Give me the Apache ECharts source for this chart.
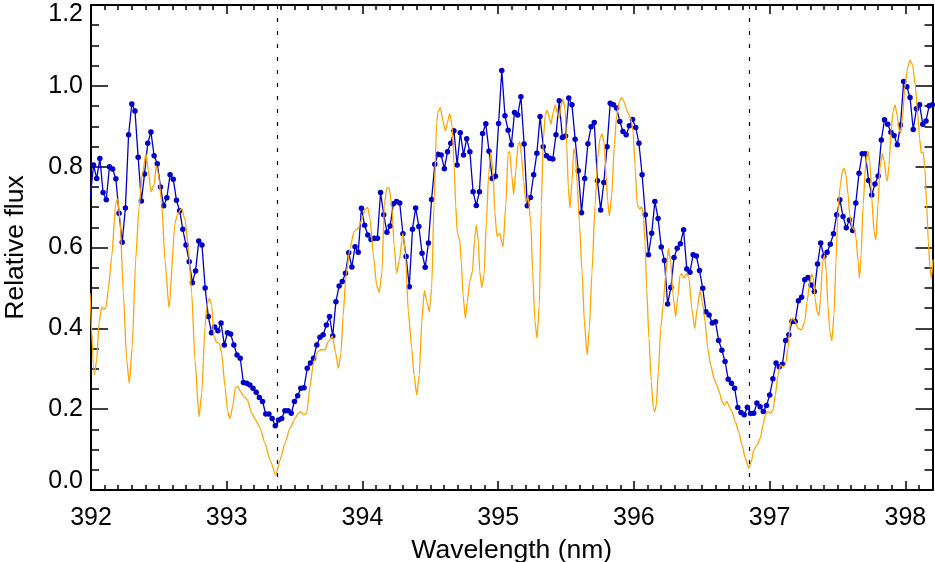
<!DOCTYPE html>
<html>
<head>
<meta charset="utf-8">
<script src="https://cdn.jsdelivr.net/npm/echarts/dist/echarts.min.js"></script>
<style>
  html, body { margin: 0; padding: 0; background: #ffffff; }
  #chart { width: 935px; height: 562px; }
</style>
</head>
<body>
<div id="chart"></div>
<script>
// ---------------- DATA ----------------
// Observed spectrum: wavelength grid (nm)
const obsWavelength = [
  391.995, 392.0185, 392.042, 392.0655, 392.089, 392.1125, 392.136, 392.1595, 392.183, 392.2065,
  392.23, 392.2535, 392.277, 392.3005, 392.324, 392.3475, 392.371, 392.3945, 392.418, 392.4415,
  392.465, 392.4885, 392.512, 392.5355, 392.559, 392.5825, 392.606, 392.6295, 392.653, 392.6765,
  392.7, 392.7235, 392.747, 392.7705, 392.794, 392.8175, 392.841, 392.8645, 392.888, 392.9115,
  392.935, 392.9585, 392.982, 393.0055, 393.029, 393.0525, 393.076, 393.0995, 393.123, 393.1465,
  393.17, 393.1935, 393.217, 393.2405, 393.264, 393.2875, 393.311, 393.3345, 393.358, 393.3815,
  393.405, 393.4285, 393.452, 393.4755, 393.499, 393.5225, 393.546, 393.5695, 393.593, 393.6165,
  393.64, 393.6635, 393.687, 393.7105, 393.734, 393.7575, 393.781, 393.8045, 393.828, 393.8515,
  393.875, 393.8985, 393.922, 393.9455, 393.969, 393.9925, 394.016, 394.0395, 394.063, 394.0865,
  394.11, 394.1335, 394.157, 394.1805, 394.204, 394.2275, 394.251, 394.2745, 394.298, 394.3215,
  394.345, 394.3685, 394.392, 394.4155, 394.439, 394.4625, 394.486, 394.5095, 394.533, 394.5565,
  394.58, 394.6035, 394.627, 394.6505, 394.674, 394.6975, 394.721, 394.7445, 394.768, 394.7915,
  394.815, 394.8385, 394.862, 394.8855, 394.909, 394.9325, 394.956, 394.9795, 395.003, 395.0265,
  395.05, 395.0735, 395.097, 395.1205, 395.144, 395.1675, 395.191, 395.2145, 395.238, 395.2615,
  395.285, 395.3085, 395.332, 395.3555, 395.379, 395.4025, 395.426, 395.4495, 395.473, 395.4965,
  395.52, 395.5435, 395.567, 395.5905, 395.614, 395.6375, 395.661, 395.6845, 395.708, 395.7315,
  395.755, 395.7785, 395.802, 395.8255, 395.849, 395.8725, 395.896, 395.9195, 395.943, 395.9665,
  395.99, 396.0135, 396.037, 396.0605, 396.084, 396.1075, 396.131, 396.1545, 396.178, 396.2015,
  396.225, 396.2485, 396.272, 396.2955, 396.319, 396.3425, 396.366, 396.3895, 396.413, 396.4365,
  396.46, 396.4835, 396.507, 396.5305, 396.554, 396.5775, 396.601, 396.6245, 396.648, 396.6715,
  396.695, 396.7185, 396.742, 396.7655, 396.789, 396.8125, 396.836, 396.8595, 396.883, 396.9065,
  396.93, 396.9535, 396.977, 397.0005, 397.024, 397.0475, 397.071, 397.0945, 397.118, 397.1415,
  397.165, 397.1885, 397.212, 397.2355, 397.259, 397.2825, 397.306, 397.3295, 397.353, 397.3765,
  397.4, 397.4235, 397.447, 397.4705, 397.494, 397.5175, 397.541, 397.5645, 397.588, 397.6115,
  397.635, 397.6585, 397.682, 397.7055, 397.729, 397.7525, 397.776, 397.7995, 397.823, 397.8465,
  397.87, 397.8935, 397.917, 397.9405, 397.964, 397.9875, 398.011, 398.0345, 398.058, 398.0815,
  398.105, 398.1285, 398.152, 398.1755, 398.199
];

// Observed spectrum: relative flux (blue points)
const obsFlux = [
  0.725, 0.804, 0.771, 0.82, 0.736, 0.718, 0.80,
  0.794, 0.77, 0.685, 0.613, 0.698, 0.879, 0.955, 0.938, 0.823, 0.715,
  0.782, 0.858, 0.886, 0.827, 0.807, 0.75, 0.703, 0.723, 0.78, 0.769,
  0.717, 0.691, 0.645, 0.606, 0.565, 0.513, 0.542, 0.616, 0.606, 0.50,
  0.429, 0.389, 0.403, 0.394, 0.413, 0.359, 0.389, 0.386, 0.359, 0.334,
  0.326, 0.266, 0.264, 0.26, 0.252, 0.242, 0.229,
  0.219, 0.188, 0.188, 0.177, 0.159, 0.173, 0.177, 0.196, 0.196, 0.19,
  0.219, 0.233, 0.252, 0.253, 0.301, 0.314, 0.326, 0.359, 0.378, 0.384,
  0.408, 0.429, 0.381, 0.466, 0.505, 0.516, 0.536,
  0.587, 0.552, 0.602, 0.588, 0.697, 0.655, 0.631, 0.62, 0.623, 0.623,
  0.736, 0.681, 0.638, 0.653, 0.708, 0.714, 0.71, 0.634, 0.578, 0.503,
  0.645, 0.698, 0.652, 0.586, 0.551, 0.611, 0.719, 0.806, 0.831,
  0.829, 0.795, 0.837, 0.858, 0.889, 0.804, 0.884, 0.829, 0.869, 0.837,
  0.738, 0.704, 0.738, 0.882, 0.906, 0.838, 0.771, 0.776, 0.907, 1.038,
  0.926, 0.89, 0.854, 0.934, 0.928, 0.973, 0.856, 0.703, 0.724,
  0.78, 0.833, 0.924, 0.849, 0.827, 0.821, 0.819, 0.879, 0.963, 0.872,
  0.876, 0.97, 0.953, 0.868, 0.79, 0.686, 0.771, 0.857, 0.899, 0.909,
  0.765, 0.693, 0.761, 0.849, 0.957, 0.953, 0.945, 0.912, 0.887,
  0.879, 0.901, 0.917, 0.897, 0.858, 0.78, 0.681, 0.582, 0.635, 0.714,
  0.672, 0.601, 0.568, 0.46, 0.501, 0.575, 0.598, 0.609, 0.644, 0.547,
  0.539, 0.582, 0.579, 0.543, 0.499, 0.441, 0.433, 0.413, 0.416, 0.37,
  0.346, 0.318, 0.274, 0.264, 0.252, 0.204, 0.192, 0.186, 0.205, 0.189,
  0.19, 0.215, 0.206, 0.194, 0.209, 0.235, 0.275, 0.314, 0.305, 0.311,
  0.37, 0.384, 0.417, 0.417, 0.468, 0.477, 0.52, 0.526,
  0.507, 0.491, 0.559, 0.611, 0.578, 0.588, 0.608, 0.634, 0.681, 0.718,
  0.677, 0.649, 0.668, 0.642, 0.71, 0.784, 0.832, 0.832, 0.766, 0.73,
  0.757, 0.777, 0.866, 0.916, 0.905, 0.885, 0.877, 0.854, 0.903, 1.011,
  0.998, 0.971, 0.892, 0.943, 0.953, 0.905, 0.913, 0.951, 0.953
];

// Model spectrum (orange): [wavelength nm, relative flux]
const modelSpectrum = [
  [391.993,0.487],[392.024,0.285],[392.042,0.322],[392.059,0.413],[392.079,0.453],[392.098,0.447],
  [392.111,0.453],[392.127,0.495],[392.153,0.578],[392.182,0.71],[392.197,0.72],[392.214,0.668],
  [392.238,0.487],[392.263,0.322],[392.282,0.264],[392.304,0.355],[392.329,0.569],[392.354,0.70],
  [392.378,0.78],[392.405,0.832],[392.422,0.792],[392.442,0.738],[392.464,0.755],[392.481,0.802],
  [392.496,0.784],[392.521,0.71],[392.545,0.569],[392.575,0.45],[392.619,0.66],[392.636,0.681],
  [392.668,0.697],[392.693,0.668],[392.717,0.602],[392.742,0.487],[392.766,0.322],[392.796,0.181],
  [392.816,0.239],[392.840,0.404],[392.857,0.462],[392.872,0.474],[392.889,0.458],[392.906,0.38],
  [392.926,0.365],[392.945,0.363],[392.963,0.338],[392.987,0.256],[393.007,0.194],[393.024,0.177],
  [393.044,0.206],[393.063,0.252],[393.081,0.257],[393.103,0.243],[393.127,0.231],[393.152,0.223],
  [393.184,0.19],[393.214,0.173],[393.245,0.153],[393.282,0.116],[393.319,0.074],[393.361,0.037],
  [393.393,0.074],[393.429,0.116],[393.466,0.153],[393.503,0.177],[393.527,0.19],[393.547,0.194],
  [393.569,0.186],[393.589,0.19],[393.614,0.256],[393.638,0.314],[393.670,0.342],[393.695,0.347],
  [393.724,0.347],[393.748,0.367],[393.778,0.381],[393.803,0.338],[393.822,0.301],[393.842,0.338],
  [393.857,0.43],[393.879,0.532],[393.908,0.598],[393.938,0.639],[393.969,0.648],[393.995,0.668],
  [394.019,0.695],[394.039,0.699],[394.056,0.672],[394.080,0.582],[394.105,0.507],[394.124,0.489],
  [394.144,0.54],[394.161,0.705],[394.179,0.747],[394.196,0.748],[394.216,0.705],[394.233,0.606],
  [394.252,0.536],[394.272,0.569],[394.297,0.635],[394.316,0.59],[394.338,0.441],[394.363,0.351],
  [394.380,0.285],[394.400,0.235],[394.419,0.285],[394.437,0.417],[394.456,0.493],[394.474,0.466],
  [394.493,0.441],[394.510,0.499],[394.527,0.705],[394.547,0.911],[394.557,0.936],[394.574,0.946],
  [394.594,0.912],[394.611,0.889],[394.628,0.912],[394.643,0.932],[394.660,0.903],[394.675,0.804],
  [394.687,0.705],[394.699,0.635],[394.717,0.619],[394.728,0.565],[394.741,0.483],[394.758,0.425],
  [394.773,0.466],[394.790,0.516],[394.810,0.54],[394.827,0.623],[394.839,0.656],[394.854,0.615],
  [394.864,0.54],[394.879,0.501],[394.896,0.532],[394.913,0.664],[394.930,0.78],[394.945,0.836],
  [394.962,0.788],[394.975,0.689],[394.991,0.627],[395.011,0.635],[395.036,0.602],[395.056,0.705],
  [395.073,0.834],[395.085,0.837],[395.100,0.78],[395.114,0.731],[395.129,0.788],[395.146,0.854],
  [395.159,0.861],[395.171,0.829],[395.188,0.763],[395.203,0.714],[395.220,0.726],[395.240,0.664],
  [395.254,0.54],[395.271,0.417],[395.286,0.375],[395.303,0.458],[395.318,0.705],[395.333,0.87],
  [395.347,0.928],[395.360,0.94],[395.377,0.92],[395.389,0.905],[395.406,0.936],[395.421,0.953],
  [395.436,0.932],[395.450,0.92],[395.465,0.953],[395.478,0.967],[395.492,0.945],[395.505,0.854],
  [395.517,0.747],[395.529,0.697],[395.544,0.763],[395.557,0.846],[395.568,0.829],[395.581,0.763],
  [395.598,0.664],[395.618,0.54],[395.635,0.417],[395.655,0.334],[395.672,0.40],[395.691,0.54],
  [395.714,0.705],[395.733,0.821],[395.750,0.87],[395.765,0.881],[395.780,0.862],[395.795,0.78],
  [395.807,0.714],[395.819,0.678],[395.837,0.73],[395.856,0.854],[395.873,0.928],[395.893,0.961],
  [395.910,0.971],[395.927,0.961],[395.952,0.936],[395.977,0.92],[395.994,0.887],[396.008,0.804],
  [396.025,0.705],[396.043,0.695],[396.058,0.701],[396.069,0.681],[396.082,0.615],[396.094,0.499],
  [396.111,0.375],[396.128,0.268],[396.143,0.202],[396.153,0.194],[396.165,0.21],[396.180,0.293],
  [396.198,0.40],[396.215,0.458],[396.234,0.532],[396.254,0.598],[396.271,0.565],[396.288,0.483],
  [396.308,0.429],[396.325,0.483],[396.340,0.532],[396.352,0.535],[396.369,0.524],[396.389,0.536],
  [396.406,0.524],[396.426,0.45],[396.448,0.40],[396.467,0.45],[396.487,0.493],[396.504,0.466],
  [396.524,0.417],[396.544,0.351],[396.566,0.309],[396.590,0.276],[396.612,0.258],[396.629,0.243],
  [396.649,0.219],[396.666,0.21],[396.686,0.219],[396.703,0.206],[396.723,0.194],[396.747,0.169],
  [396.772,0.144],[396.797,0.111],[396.821,0.078],[396.846,0.054],[396.865,0.07],[396.883,0.099],
  [396.907,0.111],[396.931,0.128],[396.951,0.161],[396.968,0.186],[396.988,0.194],[397.005,0.19],
  [397.025,0.198],[397.042,0.235],[397.062,0.285],[397.079,0.309],[397.099,0.305],[397.116,0.309],
  [397.136,0.351],[397.153,0.417],[397.170,0.425],[397.189,0.417],[397.209,0.40],[397.234,0.396],
  [397.259,0.417],[397.276,0.466],[397.294,0.51],[397.310,0.534],[397.323,0.524],[397.335,0.474],
  [397.350,0.441],[397.363,0.431],[397.375,0.474],[397.390,0.565],[397.405,0.582],[397.417,0.54],
  [397.429,0.458],[397.444,0.392],[397.459,0.369],[397.474,0.433],[397.489,0.565],[397.503,0.689],
  [397.521,0.755],[397.538,0.792],[397.550,0.796],[397.563,0.78],[397.578,0.73],[397.590,0.681],
  [397.607,0.649],[397.625,0.644],[397.637,0.623],[397.652,0.565],[397.662,0.524],[397.674,0.582],
  [397.689,0.705],[397.707,0.804],[397.724,0.839],[397.738,0.813],[397.751,0.73],[397.769,0.639],
  [397.783,0.619],[397.798,0.705],[397.813,0.796],[397.830,0.832],[397.845,0.813],[397.860,0.771],
  [397.867,0.765],[397.880,0.804],[397.895,0.887],[397.909,0.936],[397.924,0.953],[397.939,0.928],
  [397.954,0.891],[397.966,0.883],[397.979,0.92],[397.996,0.994],[398.016,1.044],[398.035,1.064],
  [398.053,1.052],[398.073,1.002],[398.090,0.936],[398.105,0.87],[398.117,0.834],[398.132,0.836],
  [398.144,0.796],[398.157,0.705],[398.169,0.615],[398.182,0.549],[398.191,0.524],[398.204,0.57]
];

// Line centres marked with dashed verticals (Ca II K and H)
const lineCentres = [393.366, 396.847];

// Axis settings
const xRange = [392, 398.2];
const yRange = [0, 1.2];
const xMajorStep = 1;
const xMinorStep = 0.1;
const yMajorStep = 0.2;

// ---------------- CHART ----------------
const fontFam = '"Liberation Sans", Arial, Helvetica, sans-serif';
const blue = '#0000c8';
const orange = '#ffa500';

const obsPoints = obsWavelength.map((w, i) => [w, obsFlux[i]]);

function xAx(position, step, tickLen, withLabels, withLine) {
  const ax = {
    type: 'value', gridIndex: 0, position: position,
    min: xRange[0], max: xRange[1], interval: step,
    axisLine: { show: withLine, onZero: false, lineStyle: { color: '#000', width: 2 } },
    axisTick: { show: true, inside: true, length: tickLen, lineStyle: { color: '#000', width: 1.5 } },
    axisLabel: { show: false },
    splitLine: { show: false }
  };
  if (withLabels) {
    ax.axisLabel = {
      show: true, color: '#000', fontSize: 25, fontFamily: fontFam, margin: 16,
      showMaxLabel: false, formatter: v => String(Math.round(v))
    };
    ax.name = 'Wavelength (nm)';
    ax.nameLocation = 'middle';
    ax.nameGap = 47;
    ax.nameTextStyle = { color: '#000', fontSize: 26.5, fontFamily: fontFam };
  }
  return ax;
}

function yAx(position, withLabels) {
  const ax = {
    type: 'value', gridIndex: 0, position: position,
    min: yRange[0], max: yRange[1], interval: yMajorStep,
    axisLine: { show: true, onZero: false, lineStyle: { color: '#000', width: 2 } },
    axisTick: { show: true, inside: true, length: 17, lineStyle: { color: '#000', width: 1.5 } },
    minorTick: { show: true, splitNumber: 4, length: 8, lineStyle: { color: '#000', width: 1.5 } },
    axisLabel: { show: false },
    splitLine: { show: false }
  };
  if (withLabels) {
    ax.axisLabel = {
      show: true, color: '#000', fontSize: 25, lineHeight: 18, fontFamily: fontFam, margin: 8,
      formatter: v => v.toFixed(1),
      verticalAlignMinLabel: 'bottom', verticalAlignMaxLabel: 'top'
    };
    ax.name = 'Relative flux';
    ax.nameLocation = 'middle';
    ax.nameGap = 62;
    ax.nameRotate = 90;
    ax.nameTextStyle = { color: '#000', fontSize: 26.5, fontFamily: fontFam };
  }
  return ax;
}

const chart = echarts.init(document.getElementById('chart'), null, { renderer: 'canvas' });
chart.setOption({
  animation: false,
  backgroundColor: '#ffffff',
  grid: { left: 91, right: 2.5, top: 5, bottom: 72, containLabel: false, outerBoundsMode: 'none' },
  xAxis: [
    xAx('bottom', xMajorStep, 9, true, true),
    xAx('bottom', xMinorStep, 5, false, false),
    xAx('top', xMajorStep, 9, false, true),
    xAx('top', xMinorStep, 5, false, false)
  ],
  yAxis: [
    yAx('left', true),
    yAx('right', false)
  ],
  series: [
    {
      name: 'Observed', type: 'line', xAxisIndex: 0, yAxisIndex: 0,
      data: obsPoints,
      symbol: 'circle', symbolSize: 5.5, showSymbol: true,
      itemStyle: { color: blue },
      lineStyle: { color: blue, width: 1.3 },
      z: 2, silent: true
    },
    {
      name: 'Model', type: 'line', xAxisIndex: 0, yAxisIndex: 0,
      data: modelSpectrum,
      symbol: 'none', smooth: 0.2, smoothMonotone: 'x',
      lineStyle: { color: orange, width: 1.3 },
      z: 3, silent: true,
      markLine: {
        silent: true, symbol: ['none', 'none'], label: { show: false },
        lineStyle: { color: '#000', type: [4, 9], width: 1.2 },
        data: lineCentres.map(v => ({ xAxis: v }))
      }
    }
  ]
});
</script>
</body>
</html>
